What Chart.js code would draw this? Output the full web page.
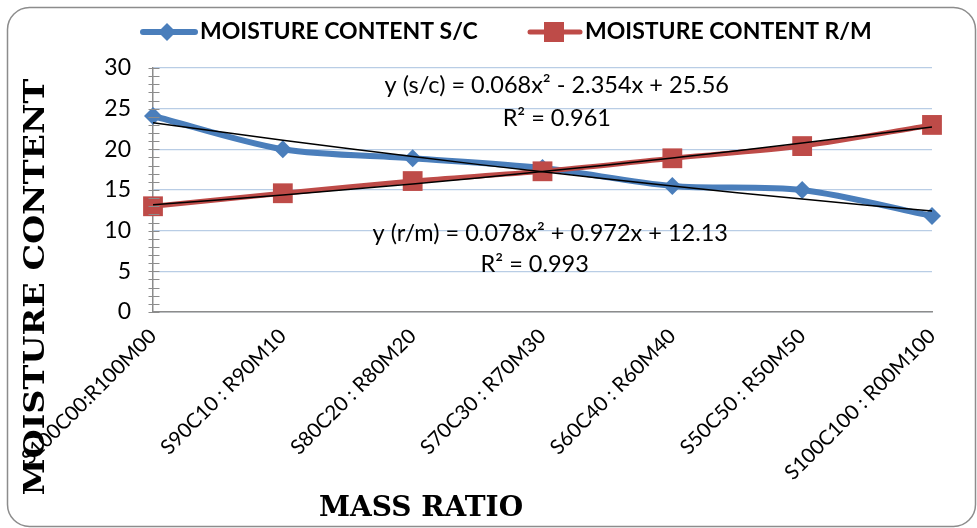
<!DOCTYPE html>
<html>
<head>
<meta charset="utf-8">
<script src="https://cdn.jsdelivr.net/npm/chart.js@4"></script>
<style>
  html, body { margin: 0; padding: 0; background: #fff; }
  #wrap { position: relative; width: 977px; height: 528px; }
</style>
</head>
<body>
<div id="wrap"><canvas id="myChart" width="977" height="528"></canvas></div>
<script>
// data
const categories = ['S100C00:R100M00', 'S90C10 : R90M10', 'S80C20 : R80M20', 'S70C30 : R70M30',
  'S60C40 : R60M40', 'S50C50 : R50M50', 'S100C100 : R00M100'];
const scValues = [24.1, 20.0, 18.9, 17.7, 15.5, 15.0, 11.8];
const rmValues = [13.0, 14.6, 16.1, 17.3, 18.9, 20.4, 23.0];
// polynomial trendlines (values of the black curves at each category)
const scTrend = [23.27, 21.12, 19.11, 17.23, 15.49, 13.88, 12.41];
const rmTrend = [13.18, 14.39, 15.75, 17.27, 18.94, 20.77, 22.76];
const yTicks = [0, 5, 10, 15, 20, 25, 30];
const seriesNames = ['MOISTURE CONTENT S/C', 'MOISTURE CONTENT R/M'];
const scEquation = ['y (s/c) = 0.068x² - 2.354x + 25.56', 'R² = 0.961'];
const rmEquation = ['y (r/m) = 0.078x² + 0.972x + 12.13', 'R² = 0.993'];

const BLUE = '#4a7ebb';
const RED = '#be4b48';
const GRID = '#b9cde5';
const AXIS = '#8c8c8c';
const FONT = 'Lato, "Open Sans", sans-serif';

function diamond(ctx, x, y, r) {
  ctx.beginPath();
  ctx.moveTo(x, y - r); ctx.lineTo(x + r, y); ctx.lineTo(x, y + r); ctx.lineTo(x - r, y);
  ctx.closePath(); ctx.fill();
}

const extras = {
  id: 'extras',
  beforeDraw(chart) {
    const ctx = chart.ctx;
    ctx.save();
    ctx.fillStyle = '#fff';
    ctx.fillRect(0, 0, chart.width, chart.height);
    // rounded chart border
    ctx.strokeStyle = AXIS;
    ctx.lineWidth = 1.5;
    ctx.beginPath();
    ctx.roundRect(7.5, 7.5, 968, 519, 22);
    ctx.stroke();
    ctx.restore();
  },
  afterDraw(chart) {
    const ctx = chart.ctx;
    const xs = chart.scales.x, ys = chart.scales.y;
    ctx.save();
    // y axis minor / major cross ticks
    ctx.strokeStyle = AXIS;
    ctx.lineWidth = 1;
    const ax = Math.round(xs.left) + 0.5;
    for (let v = 0; v <= 30; v++) {
      const py = Math.round(ys.getPixelForValue(v)) + 0.5;
      ctx.beginPath();
      ctx.moveTo(ax - 5, py); ctx.lineTo(ax + 6, py);
      ctx.stroke();
    }

    // legend
    ctx.font = 'bold 23px ' + FONT;
    ctx.textBaseline = 'middle';
    ctx.fillStyle = '#000';
    const ly = 32;
    let lx = 140;
    ctx.strokeStyle = BLUE; ctx.lineWidth = 6; ctx.lineCap = 'round';
    ctx.beginPath(); ctx.moveTo(lx + 3, ly); ctx.lineTo(lx + 55, ly); ctx.stroke();
    ctx.fillStyle = BLUE; diamond(ctx, lx + 27, ly, 9);
    ctx.fillStyle = '#000'; ctx.textAlign = 'left';
    ctx.fillText(seriesNames[0], lx + 60, ly);
    lx = 527;
    ctx.strokeStyle = RED; ctx.lineWidth = 5;
    ctx.beginPath(); ctx.moveTo(lx + 3, ly); ctx.lineTo(lx + 53, ly); ctx.stroke();
    ctx.fillStyle = RED; ctx.fillRect(lx + 17, ly - 10, 20, 20);
    ctx.fillStyle = '#000';
    ctx.fillText(seriesNames[1], lx + 58, ly);

    // trendline equations
    ctx.font = '23.5px ' + FONT;
    ctx.textAlign = 'center';
    ctx.fillText(scEquation[0], xs.getPixelForValue(3.11), ys.getPixelForValue(27.8));
    ctx.fillText(scEquation[1], xs.getPixelForValue(3.11), ys.getPixelForValue(23.85));
    ctx.fillText(rmEquation[0], xs.getPixelForValue(3.06), ys.getPixelForValue(9.7));
    ctx.fillText(rmEquation[1], xs.getPixelForValue(2.94), ys.getPixelForValue(5.8));

    // axis titles
    ctx.font = 'bold 28px "DejaVu Serif", serif';
    ctx.fillText('MASS RATIO', 421, 509);
    ctx.save();
    ctx.translate(37, 287);
    ctx.rotate(-Math.PI / 2);
    const w = ctx.measureText('MOISTURE CONTENT').width;
    ctx.scale(417 / w, 1);
    ctx.fillText('MOISTURE CONTENT', 0, 0);
    ctx.restore();
    ctx.restore();
  }
};

new Chart(document.getElementById('myChart'), {
  type: 'line',
  data: {
    labels: categories,
    datasets: [
      { label: 'trend s/c', data: scTrend, borderColor: '#000', borderWidth: 1.5,
        pointRadius: 0, tension: 0.4, order: 0 },
      { label: 'trend r/m', data: rmTrend, borderColor: '#000', borderWidth: 1.5,
        pointRadius: 0, tension: 0.4, order: 0 },
      { label: seriesNames[0], data: scValues, borderColor: BLUE, backgroundColor: BLUE,
        borderWidth: 6, pointStyle: 'rectRot', pointRadius: 9, pointBorderWidth: 0,
        tension: 0.3, order: 2 },
      { label: seriesNames[1], data: rmValues, borderColor: RED, backgroundColor: RED,
        borderWidth: 5, pointStyle: 'rect', pointRadius: 14, pointBorderWidth: 0,
        tension: 0.3, order: 1 }
    ]
  },
  options: {
    responsive: false,
    animation: false,
    layout: { padding: { top: 68, right: 45, left: 0, bottom: 0 } },
    plugins: { legend: { display: false }, tooltip: { enabled: false } },
    scales: {
      x: {
        offset: false,
        grid: { display: false, drawTicks: false },
        border: { color: AXIS, width: 1.5 },
        ticks: { color: '#000', font: { family: FONT, size: 20.5 }, minRotation: 45, maxRotation: 45,
          autoSkip: false, padding: 12 },
        afterFit(scale) { scale.height = 216; }
      },
      y: {
        min: 0, max: 30,
        afterBuildTicks(scale) { scale.ticks = yTicks.map(v => ({ value: v })); },
        grid: { color: GRID, lineWidth: 1.2, drawTicks: false },
        border: { color: AXIS, width: 1.5 },
        ticks: { color: '#000', font: { family: FONT, size: 23 }, padding: 22 },
        afterFit(scale) { scale.width = 153; }
      }
    }
  },
  plugins: [extras]
});
</script>
</body>
</html>
